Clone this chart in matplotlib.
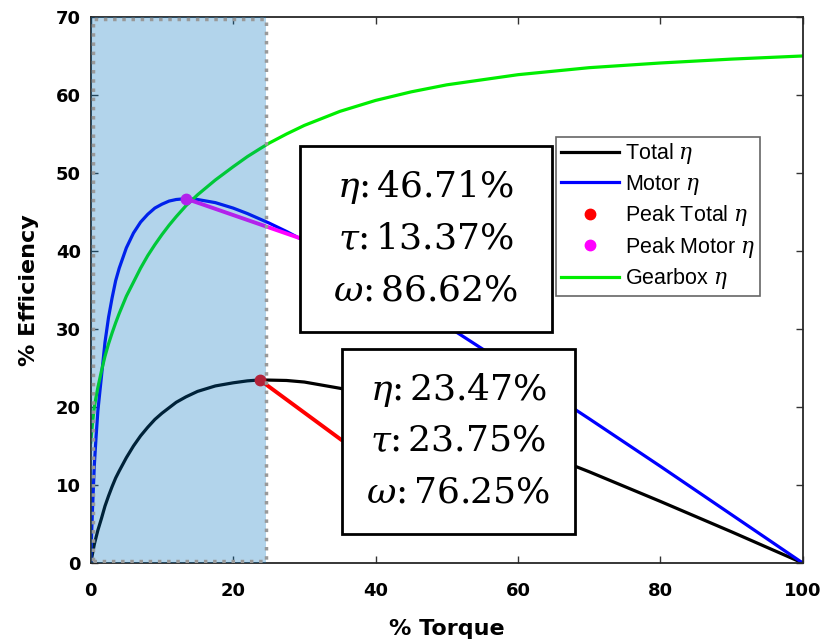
import matplotlib
matplotlib.use('Agg')
import matplotlib.pyplot as plt
from matplotlib.patches import Rectangle

plt.rcParams['mathtext.fontset'] = 'dejavuserif'

# values (% torque -> % efficiency)
torque = [0, 0.1, 0.25, 0.5, 0.75, 1, 1.5, 2, 2.5, 3, 3.5, 4, 5, 6, 7, 8, 9, 10, 11,
          12, 13.37, 15, 17.5, 20, 22, 23.75, 25, 27.5, 30, 35, 40, 45, 50, 60, 70,
          80, 90, 100]
motor_eff = [0, 3.2, 7, 12.5, 16.2, 19.5, 23.9, 28.3, 31.5, 34.0, 36.2, 37.8, 40.4,
             42.3, 43.7, 44.7, 45.5, 46.0, 46.4, 46.6, 46.71, 46.6, 46.2, 45.5, 44.8,
             44.1, 43.6, 42.5, 41.3, 38.7, 36.1, 33.3, 30.4, 24.5, 18.5, 12.4, 6.2, 0]
gearbox_eff = [15.5, 16.5, 18, 20, 21.3, 22.5, 24.6, 26.5, 28.1, 29.5, 30.8, 32, 34.2,
               36, 37.8, 39.4, 40.8, 42.1, 43.3, 44.4, 45.8, 47.2, 49.1, 50.8, 52.1,
               53.1, 53.8, 55.0, 56.1, 57.9, 59.3, 60.4, 61.3, 62.6, 63.5, 64.1, 64.6,
               65.0]
total_eff = [0, 0.5, 1.2, 2.4, 3.3, 4.2, 5.7, 7.3, 8.6, 9.8, 10.9, 11.8, 13.5, 15.0,
             16.3, 17.4, 18.4, 19.2, 19.9, 20.6, 21.3, 22.0, 22.7, 23.1, 23.35, 23.47,
             23.45, 23.4, 23.2, 22.4, 21.4, 20.1, 18.6, 15.3, 11.7, 7.9, 4.0, 0]

# peaks: (torque, efficiency, speed)
motor_peak = (13.37, 46.71, 86.62)
total_peak = (23.75, 23.47, 76.25)

shaded_torque = 24.6

fig = plt.figure(figsize=(8.25, 6.43), dpi=100)
ax = fig.add_axes([0.110, 0.1244, 0.863, 0.8492])

l_total, = ax.plot(torque, total_eff, color='black', lw=2.3, zorder=2)
l_motor, = ax.plot(torque, motor_eff, color='blue', lw=2.3, zorder=2)
l_gear, = ax.plot(torque, gearbox_eff, color='#00ee00', lw=2.3, zorder=2)
p_total, = ax.plot([total_peak[0]], [total_peak[1]], 'o', color='red', ms=7.5, zorder=3)
p_motor, = ax.plot([motor_peak[0]], [motor_peak[1]], 'o', color='magenta', ms=7.5, zorder=3)

# leader lines from peaks to the text boxes
ax.annotate('', xy=(motor_peak[0], motor_peak[1]), xytext=(0.2935, 0.595),
            textcoords='axes fraction',
            arrowprops=dict(arrowstyle='-', color='magenta', lw=2.8, shrinkA=0, shrinkB=0),
            zorder=3)
ax.annotate('', xy=(total_peak[0], total_peak[1]), xytext=(0.3525, 0.225),
            textcoords='axes fraction',
            arrowprops=dict(arrowstyle='-', color='red', lw=2.8, shrinkA=0, shrinkB=0),
            zorder=3)

# shaded operating region drawn on top (matlab style face alpha)
ax.axvspan(0, shaded_torque, facecolor=(0, 0.447, 0.741), alpha=0.3, lw=0, zorder=4)
ax.add_patch(Rectangle((0.25, 0.2), shaded_torque - 0.25, 69.6, fill=False,
                       edgecolor='0.6', ls=':', lw=2.5, zorder=4.5))

# text boxes
def info_box(x0, x1, y0, y1, peak):
    ax.add_patch(Rectangle((x0, y0), x1 - x0, y1 - y0, transform=ax.transAxes,
                           facecolor='white', edgecolor='black', lw=2, zorder=5))
    xc = (x0 + x1) / 2
    step = (y1 - y0) / 3.6
    yc = (y0 + y1) / 2
    lines = [r'$\eta$:$\,$%.2f%%' % peak[1], r'$\tau$:$\,$%.2f%%' % peak[0],
             r'$\omega$:$\,$%.2f%%' % peak[2]]
    for i, s in enumerate(lines):
        ax.text(xc, yc + (1 - i) * step, s, transform=ax.transAxes, ha='center',
                va='center', fontsize=26, family='DejaVu Serif', zorder=6)

info_box(0.2935, 0.6475, 0.4231, 0.7637, motor_peak)
info_box(0.3525, 0.6798, 0.0531, 0.3919, total_peak)

leg = ax.legend([l_total, l_motor, p_total, p_motor, l_gear],
                [r'Total $\eta$', r'Motor $\eta$', r'Peak Total $\eta$',
                 r'Peak Motor $\eta$', r'Gearbox $\eta$'],
                loc='upper left', bbox_to_anchor=(0.654, 0.780), borderaxespad=0,
                prop={'family': 'Liberation Sans', 'size': 15.5}, handlelength=2.7,
                handletextpad=0.3, labelspacing=0.3, borderpad=0.2,
                fancybox=False, framealpha=1, edgecolor='0.4', markerscale=1)
leg.get_frame().set_linewidth(1.2)
leg.set_zorder(10)

ax.set_xlim(0, 100)
ax.set_ylim(0, 70)
ax.set_xticks(range(0, 101, 20))
ax.set_yticks(range(0, 71, 10))
ax.tick_params(direction='in', length=5, top=True, right=True, width=1, color='0.2')
ax.tick_params(axis='x', pad=14)
ax.tick_params(axis='y', pad=7)
for lab in ax.get_xticklabels() + ax.get_yticklabels():
    lab.set_fontweight('bold')
    lab.set_fontsize(13)
for sp in ax.spines.values():
    sp.set_linewidth(1.3)
    sp.set_color('0.15')

ax.set_xlabel('% Torque', fontsize=16, fontweight='bold', labelpad=13)
ax.set_ylabel('% Efficiency', fontsize=16, fontweight='bold', labelpad=12)

fig.savefig('out.png', dpi=100)
